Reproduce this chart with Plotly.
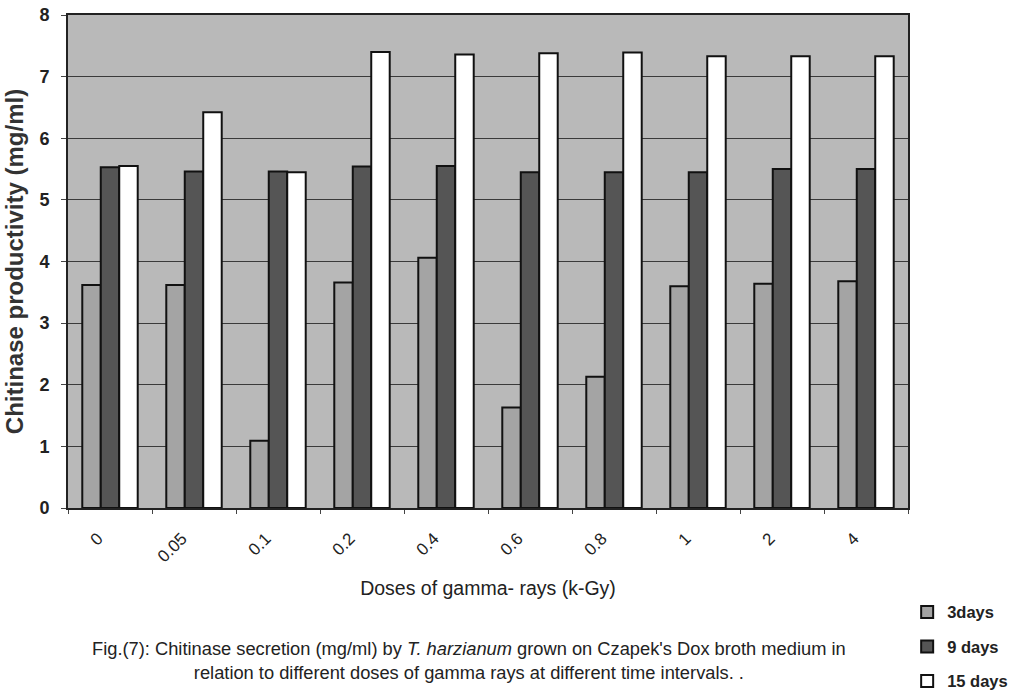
import plotly.graph_objects as go

doses = ["0", "0.05", "0.1", "0.2", "0.4", "0.6", "0.8", "1", "2", "4"]
days3 = [3.62, 3.62, 1.09, 3.66, 4.06, 1.63, 2.13, 3.60, 3.64, 3.68]
days9 = [5.53, 5.46, 5.46, 5.54, 5.55, 5.45, 5.45, 5.45, 5.50, 5.50]
days15 = [5.55, 6.42, 5.45, 7.40, 7.36, 7.38, 7.39, 7.33, 7.33, 7.33]
series_names = ["3days", "9 days", "15 days"]
series_colors = ["#a4a4a4", "#555555", "#ffffff"]

FONT = "Liberation Sans, Arial, sans-serif"

fig = go.Figure()
for name, vals, col in zip(series_names, [days3, days9, days15], series_colors):
    fig.add_trace(go.Bar(
        x=doses, y=vals, name=name, legendgroup=name,
        marker=dict(color=col, line=dict(color="#111111", width=2)),
    ))

fig.update_layout(
    width=1012, height=694,
    margin=dict(l=68, r=104, t=15, b=186, autoexpand=False),
    paper_bgcolor="white",
    plot_bgcolor="#b9b9b9",
    barmode="group", bargap=0.34, bargroupgap=0,
    font=dict(family=FONT, size=15, color="#222222"),
    showlegend=True,
    legend=dict(x=0.999, y=-0.176, xanchor="left", yanchor="top",
                traceorder="grouped", tracegroupgap=10,
                font=dict(family=FONT, size=16.5, color="#222222", weight="bold"),
                bgcolor="rgba(0,0,0,0)", itemwidth=30),
)
fig.update_xaxes(
    type="category", tickangle=-45, tickson="boundaries",
    ticks="outside", ticklen=4, tickcolor="#444",
    ticklabelstandoff=12, ticklabelshift=-12,
    showline=True, linecolor="#222", linewidth=2, mirror=True,
    showgrid=False, automargin=False,
    tickfont=dict(family=FONT, size=17, color="#222"),
    title=dict(text="Doses of gamma- rays (k-Gy)", font=dict(family=FONT, size=19.5, color="#222"), standoff=16),
)
fig.update_yaxes(
    range=[0, 8], dtick=1, ticks="outside", ticklen=5, tickcolor="#444",
    ticklabelstandoff=8, ticklabeloverflow="allow",
    showline=True, linecolor="#222", linewidth=2, mirror=True,
    showgrid=True, gridcolor="#3a3a3a", gridwidth=1, zeroline=False,
    automargin=False,
    tickfont=dict(family=FONT, size=18, color="#222", weight="bold"),
    title=dict(text="Chitinase productivity (mg/ml)", font=dict(family=FONT, size=24, color="#333", weight="bold"), standoff=9),
)
fig.add_annotation(
    xref="paper", yref="paper", x=0.477, y=-0.26, yanchor="top", showarrow=False,
    align="center",
    text="Fig.(7): Chitinase secretion (mg/ml) by <i>T. harzianum</i> grown on Czapek's Dox broth medium in<br>relation to different doses of gamma rays at different time intervals. .",
    font=dict(family=FONT, size=18.3, color="#222"),
)
# remove the default 8px page margin so the figure fills the window exactly
fig.write_html(
    "out.html",
    config={"displayModeBar": False},
    post_script="document.body.style.margin='0';document.body.style.overflow='hidden';",
)
